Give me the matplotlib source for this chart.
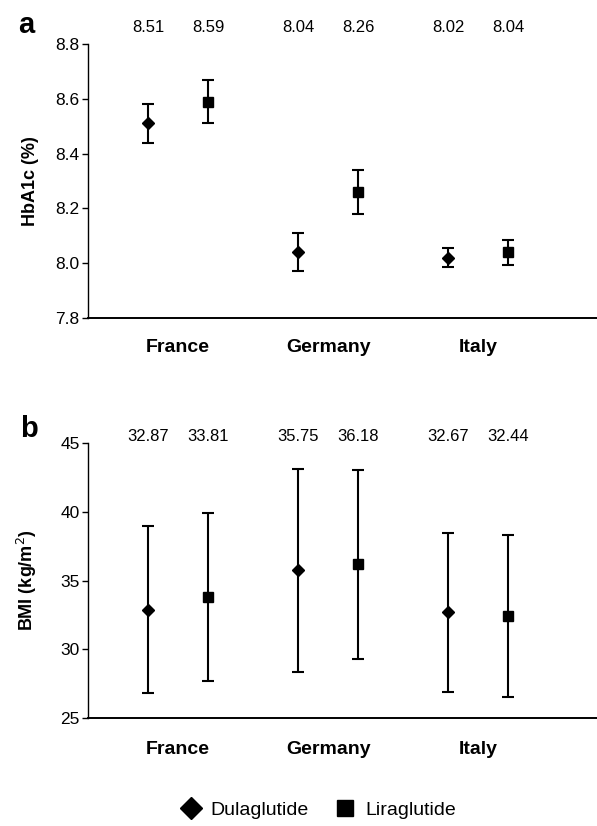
import matplotlib
matplotlib.use("Agg")
import matplotlib.pyplot as plt
from matplotlib.lines import Line2D

plt.rcParams['font.family'] = ['Liberation Sans', 'DejaVu Sans']

countries = ["France", "Germany", "Italy"]

# panel a - HbA1c (%)
hba1c_dula = [8.51, 8.04, 8.02]
hba1c_dula_err = [0.07, 0.07, 0.035]
hba1c_lira = [8.59, 8.26, 8.04]
hba1c_lira_err = [0.08, 0.08, 0.045]

# panel b - BMI (kg/m2), bar ends
bmi_dula = [32.87, 35.75, 32.67]
bmi_dula_lo = [26.78, 28.33, 26.85]
bmi_dula_hi = [38.97, 43.10, 38.44]
bmi_lira = [33.81, 36.18, 32.44]
bmi_lira_lo = [27.67, 29.31, 26.51]
bmi_lira_hi = [39.92, 43.05, 38.34]

fig = plt.figure(figsize=(5.97, 8.26), dpi=100)
ax1 = fig.add_axes([0.1474, 0.615, 0.8526, 0.3317])
ax2 = fig.add_axes([0.1474, 0.1311, 0.8526, 0.3322])

xpos = [1, 2, 3]
off = 0.2
xd = [x - off for x in xpos]
xl = [x + off for x in xpos]


def style(ax, ylim, yticks, fmt, ylabel, pad):
    ax.set_xlim(0.4, 3.79)
    ax.set_ylim(*ylim)
    ax.set_yticks(yticks)
    ax.set_yticklabels([fmt % t for t in yticks], fontsize=12.5)
    ax.set_xticks(xpos)
    ax.set_xticklabels(countries, fontsize=14, fontweight='bold')
    ax.tick_params(axis='x', length=0, pad=pad)
    ax.tick_params(axis='y', length=4, width=1, direction='out', pad=2)
    ax.spines['top'].set_visible(False)
    ax.spines['right'].set_visible(False)
    ax.spines['left'].set_linewidth(1.0)
    ax.spines['bottom'].set_linewidth(1.4)
    ax.set_ylabel(ylabel, fontsize=13, fontweight='bold')
    ax.yaxis.set_label_coords(-0.097, 0.5)


# --- panel a
ax1.errorbar(xd, hba1c_dula, yerr=hba1c_dula_err, fmt='D', color='black',
             ms=6.5, capsize=4, elinewidth=1.5, capthick=1.5)
ax1.errorbar(xl, hba1c_lira, yerr=hba1c_lira_err, fmt='s', color='black',
             ms=7, capsize=4, elinewidth=1.5, capthick=1.5)
style(ax1, (7.8, 8.8), [7.8, 8.0, 8.2, 8.4, 8.6, 8.8], '%.1f', 'HbA1c (%)', 15)
for x, v in zip(xd + xl, hba1c_dula + hba1c_lira):
    ax1.text(x, 1.062, '%.2f' % v, transform=ax1.get_xaxis_transform(),
             ha='center', va='center', fontsize=12)
fig.text(0.0436, 0.960, 'a', fontsize=21, fontweight='bold', ha='center', va='baseline')

# --- panel b
err_d = [[m - lo for m, lo in zip(bmi_dula, bmi_dula_lo)],
         [hi - m for m, hi in zip(bmi_dula, bmi_dula_hi)]]
err_l = [[m - lo for m, lo in zip(bmi_lira, bmi_lira_lo)],
         [hi - m for m, hi in zip(bmi_lira, bmi_lira_hi)]]
ax2.errorbar(xd, bmi_dula, yerr=err_d, fmt='D', color='black',
             ms=6.5, capsize=4, elinewidth=1.5, capthick=1.5)
ax2.errorbar(xl, bmi_lira, yerr=err_l, fmt='s', color='black',
             ms=7, capsize=4, elinewidth=1.5, capthick=1.5)
style(ax2, (25, 45), [25, 30, 35, 40, 45], '%d', 'BMI (kg/m$^2$)', 17)
for x, v in zip(xd + xl, bmi_dula + bmi_lira):
    ax2.text(x, 1.024, '%.2f' % v, transform=ax2.get_xaxis_transform(),
             ha='center', va='center', fontsize=12)
fig.text(0.049, 0.471, 'b', fontsize=21, fontweight='bold', ha='center', va='baseline')

# legend
handles = [Line2D([], [], marker='D', color='black', ls='none', ms=11),
           Line2D([], [], marker='s', color='black', ls='none', ms=11)]
fig.legend(handles, ['Dulaglutide', 'Liraglutide'], loc='lower center',
           bbox_to_anchor=(0.53, -0.013), ncol=2, frameon=False, fontsize=14,
           handletextpad=0.3, columnspacing=1.2, handlelength=1.4)

fig.savefig('out.png', dpi=100)
